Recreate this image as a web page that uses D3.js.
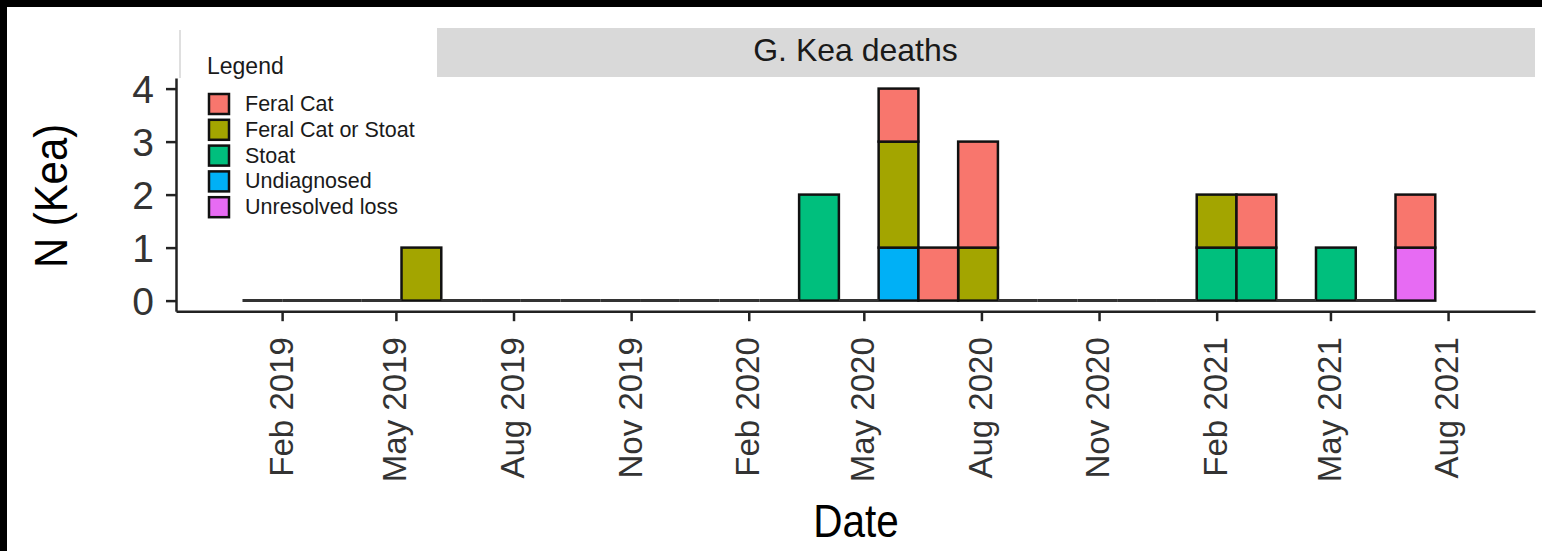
<!DOCTYPE html>
<html lang="en">
<head>
<meta charset="UTF-8">
<script src="https://d3js.org/d3.v7.min.js"></script>
<style>
  html, body { margin: 0; padding: 0; background: #fff; overflow: hidden }
  svg text { font-family: "Liberation Sans", Arial, sans-serif; }
  .axis path, .axis line { stroke: #222; stroke-width: 2.5px; }
  .axis text { fill: #333; }
  .bar { stroke: #111; stroke-width: 2.5px; }
</style>
</head>
<body>
<svg id="chart" width="1542" height="551"></svg>
<script>
// causes, legend order (ggplot hue palette)
const causes = ["Feral Cat", "Feral Cat or Stoat", "Stoat", "Undiagnosed", "Unresolved loss"];
const causeColours = ["#F8766D", "#A3A500", "#00BF7D", "#00B0F6", "#E76BF3"];

// histogram: 30 equal bins between these dates
const binRange = ["2019-01-01", "2021-07-22"];
const nBins = 30;

// counts per bin
const feralCat      = [0,0,0,0,0, 0,0,0,0,0, 0,0,0,0,0, 0,1,1,2,0, 0,0,0,0,0, 1,0,0,0,1];
const feralCatStoat = [0,0,0,0,1, 0,0,0,0,0, 0,0,0,0,0, 0,2,0,1,0, 0,0,0,0,1, 0,0,0,0,0];
const stoat         = [0,0,0,0,0, 0,0,0,0,0, 0,0,0,0,2, 0,0,0,0,0, 0,0,0,0,1, 1,0,1,0,0];
const undiagnosed   = [0,0,0,0,0, 0,0,0,0,0, 0,0,0,0,0, 0,1,0,0,0, 0,0,0,0,0, 0,0,0,0,0];
const unresolved    = [0,0,0,0,0, 0,0,0,0,0, 0,0,0,0,0, 0,0,0,0,0, 0,0,0,0,0, 0,0,0,0,1];

const xTicks = ["2019-02-01", "2019-05-01", "2019-08-01", "2019-11-01", "2020-02-01", "2020-05-01",
                "2020-08-01", "2020-11-01", "2021-02-01", "2021-05-01", "2021-08-01"];
const yTicks = [0, 1, 2, 3, 4];
const xLimits = ["2018-11-10", "2021-10-08"];

const parse = d3.timeParse("%Y-%m-%d");
const series = [feralCat, feralCatStoat, stoat, undiagnosed, unresolved];

const rows = d3.range(nBins).map(i => {
    const r = { bin: i };
    causes.forEach((c, k) => r[c] = series[k][i]);
    return r;
});

const svg = d3.select("#chart");

// black frame remnants at top and left
svg.append("rect").attr("x", 0).attr("y", 0).attr("width", 1542).attr("height", 7).attr("fill", "#000");
svg.append("rect").attr("x", 0).attr("y", 0).attr("width", 7).attr("height", 551).attr("fill", "#000");

const x = d3.scaleTime().domain(xLimits.map(parse)).range([176, 1535]);
const y = d3.scaleLinear().domain([-0.2, 4.2]).range([311.2, 78]);
const edge = d3.scaleLinear().domain([0, nBins]).range(binRange.map(parse));
const colour = d3.scaleOrdinal().domain(causes).range(causeColours);

// strip
svg.append("rect").attr("x", 176).attr("y", 28).attr("width", 1359).attr("height", 49).attr("fill", "#d9d9d9");
svg.append("text").attr("x", 855.5).attr("y", 61).attr("text-anchor", "middle")
    .attr("font-size", 32).attr("fill", "#1a1a1a").text("G. Kea deaths");

// stacked bars, first cause on top
const stack = d3.stack().keys(causes.slice().reverse());
const layers = stack(rows);

const g = svg.append("g");
layers.forEach(layer => {
    g.selectAll(null)
        .data(layer.filter(d => d[1] > d[0]))
        .join("rect")
        .attr("class", "bar")
        .attr("x", d => x(edge(d.data.bin)))
        .attr("width", d => x(edge(d.data.bin + 1)) - x(edge(d.data.bin)))
        .attr("y", d => y(d[1]))
        .attr("height", d => y(d[0]) - y(d[1]))
        .attr("fill", colour(layer.key));
});

// empty bins drawn as flat outlines
g.selectAll(null)
    .data(rows.filter(r => d3.sum(causes, c => r[c]) === 0))
    .join("line")
    .attr("x1", r => x(edge(r.bin)))
    .attr("x2", r => x(edge(r.bin + 1)))
    .attr("y1", y(0)).attr("y2", y(0))
    .attr("stroke", "#333").attr("stroke-width", 3);

// axes
const yAxis = svg.append("g").attr("class", "axis")
    .attr("transform", "translate(176,0)")
    .call(d3.axisLeft(y).tickValues(yTicks).tickFormat(d3.format("d")).tickSize(10).tickSizeOuter(0).tickPadding(12));
yAxis.selectAll("text").attr("font-size", 39).attr("dy", "0.36em");

const xAxis = svg.append("g").attr("class", "axis")
    .attr("transform", "translate(0,311.2)")
    .call(d3.axisBottom(x).tickValues(xTicks.map(parse)).tickFormat(d3.timeFormat("%b %Y")).tickSize(10).tickSizeOuter(0));
xAxis.selectAll("text")
    .attr("font-size", 33)
    .attr("transform", "rotate(-90)")
    .attr("text-anchor", "end")
    .attr("x", -26).attr("y", 0).attr("dy", "0.3em");

// axis titles
svg.append("text").attr("transform", "translate(67,196) rotate(-90) scale(0.91,1)")
    .attr("text-anchor", "middle").attr("font-size", 46).attr("fill", "#000").text("N (Kea)");
svg.append("text").attr("transform", "translate(856,537) scale(0.88,1)")
    .attr("text-anchor", "middle").attr("font-size", 46).attr("fill", "#000").text("Date");

// legend
const legend = svg.append("g");
legend.append("rect").attr("x", 176).attr("y", 22).attr("width", 261).attr("height", 56).attr("fill", "#fff");
// faint axis line showing through beside the strip
legend.append("line").attr("x1", 180).attr("x2", 180).attr("y1", 30).attr("y2", 78)
    .attr("stroke", "#d4d4d4").attr("stroke-width", 1.5);
legend.append("text").attr("x", 207).attr("y", 74).attr("font-size", 23).attr("fill", "#1a1a1a").text("Legend");
const item = legend.selectAll("g.item").data(causes).join("g")
    .attr("class", "item")
    .attr("transform", (d, i) => `translate(0,${104 + i * 25.8})`);
item.append("rect").attr("x", 209).attr("y", -10).attr("width", 20).attr("height", 20)
    .attr("fill", d => colour(d)).attr("stroke", "#111").attr("stroke-width", 2.5);
item.append("text").attr("x", 245).attr("y", 7).attr("font-size", 21.5).attr("fill", "#1a1a1a").text(d => d);
</script>
</body>
</html>
